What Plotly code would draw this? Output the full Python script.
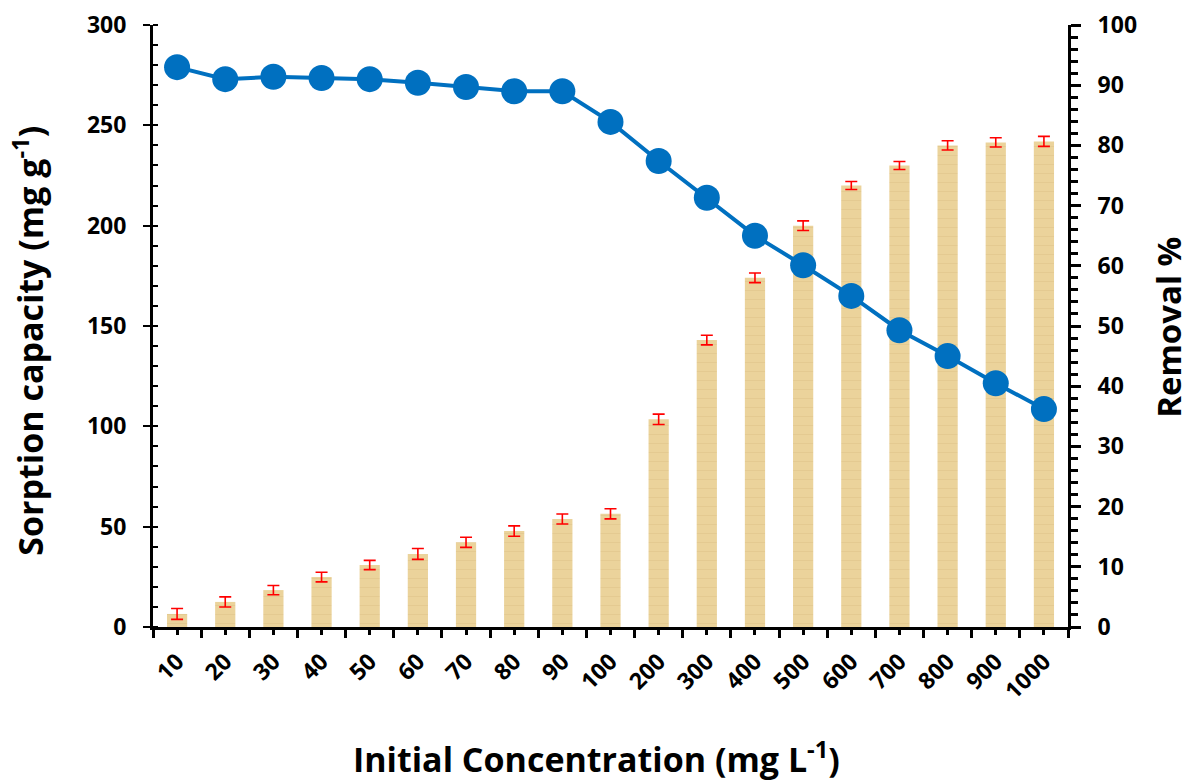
import plotly.graph_objects as go

categories = ["10", "20", "30", "40", "50", "60", "70", "80", "90", "100",
              "200", "300", "400", "500", "600", "700", "800", "900", "1000"]
sorption_capacity = [6.5, 12.5, 18.4, 24.9, 30.9, 36.4, 42.2, 47.8, 53.8, 56.4,
                     103.5, 143.0, 174.0, 200.0, 220.0, 230.0, 240.0, 241.5, 242.0]
sorption_error = [2.7, 2.5, 2.3, 2.4, 2.3, 2.7, 2.5, 2.6, 2.5, 2.5,
                  2.6, 2.4, 2.4, 2.4, 2.0, 2.0, 2.3, 2.3, 2.5]
removal_percent = [93.0, 91.0, 91.4, 91.2, 91.0, 90.4, 89.7, 89.0, 89.0, 83.9,
                   77.4, 71.3, 65.0, 60.1, 55.0, 49.3, 45.0, 40.5, 36.2]

xpos = list(range(len(categories)))

FONT = "Open Sans"

fig = go.Figure()
fig.add_trace(go.Bar(
    x=xpos, y=sorption_capacity, width=0.42,
    marker=dict(color="#EBD39B", line=dict(width=0),
                pattern=dict(shape="-", fgcolor="#D6BA7E", fgopacity=0.35,
                             size=9, solidity=0.12)),
    error_y=dict(type="data", array=sorption_error, color="#FF0000",
                 thickness=1.6, width=6),
    showlegend=False, yaxis="y"))
fig.add_trace(go.Scatter(
    x=xpos, y=removal_percent, mode="lines+markers",
    line=dict(color="#0070C0", width=4),
    marker=dict(color="#0070C0", size=26),
    showlegend=False, yaxis="y2"))

tickfont = dict(family=FONT, size=23, color="black", weight="bold")

fig.update_layout(
    width=1192, height=783,
    margin=dict(l=153, r=124, t=25, b=156, autoexpand=False),
    paper_bgcolor="white", plot_bgcolor="white",
    xaxis=dict(
        range=[-0.5, len(categories) - 0.5],
        tickmode="array", tickvals=xpos, ticktext=categories,
        tickangle=-45, tickfont=tickfont, ticklabelstandoff=4,
        ticks="outside", ticklen=5, tickwidth=3, tickcolor="black",
        minor=dict(tickmode="array", tickvals=[i - 0.5 for i in range(len(categories) + 1)],
                   ticks="outside", ticklen=8, tickwidth=3, tickcolor="black"),
        showline=True, linewidth=3, linecolor="black",
        showgrid=False, zeroline=False,
    ),
    yaxis=dict(
        range=[0, 300], dtick=50, tickfont=tickfont, ticklabelstandoff=12,
        ticks="outside", ticklen=7, tickwidth=2, tickcolor="black",
        minor=dict(dtick=10, ticks="inside", ticklen=5, tickwidth=2, tickcolor="black"),
        showline=True, linewidth=3, linecolor="black",
        showgrid=False, zeroline=False,
    ),
    yaxis2=dict(
        range=[0, 100], dtick=10, tickfont=tickfont, overlaying="y", side="right",
        ticklabelstandoff=12,
        ticks="outside", ticklen=10, tickwidth=3, tickcolor="black",
        minor=dict(dtick=2, ticks="outside", ticklen=7, tickwidth=3, tickcolor="black"),
        showline=True, linewidth=3, linecolor="black",
        showgrid=False, zeroline=False,
    ),
    annotations=[
        dict(text="Initial Concentration (mg L<sup>-1</sup>)", xref="paper", yref="paper",
             x=0.485, y=-0.216, showarrow=False, xanchor="center", yanchor="middle",
             font=dict(family=FONT, size=34, color="black", weight="bold")),
        dict(text="Sorption capacity (mg g<sup>-1</sup>)", xref="paper", yref="paper",
             x=-0.137, y=0.475, showarrow=False, textangle=-90,
             xanchor="center", yanchor="middle",
             font=dict(family=FONT, size=34, color="black", weight="bold")),
        dict(text="Removal %", xref="paper", yref="paper",
             x=1.11, y=0.498, showarrow=False, textangle=-90,
             xanchor="center", yanchor="middle",
             font=dict(family=FONT, size=33, color="black", weight="bold")),
    ],
)

fig.write_html("out.html", config={"displayModeBar": False})
with open("out.html", "r", encoding="utf-8") as f:
    html = f.read()
html = html.replace("<body>", '<body style="margin:0;padding:0;overflow:hidden">', 1)
with open("out.html", "w", encoding="utf-8") as f:
    f.write(html)
